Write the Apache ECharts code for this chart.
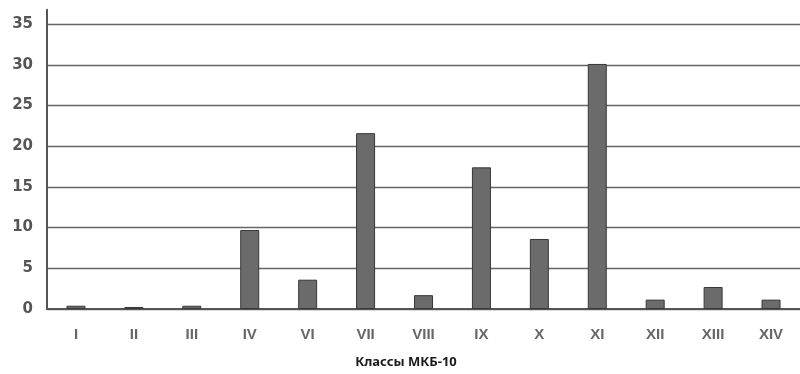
<!DOCTYPE html>
<html><head><meta charset="utf-8">
<script src="https://cdn.jsdelivr.net/npm/echarts@6/dist/echarts.min.js"></script>
<style>html,body{margin:0;padding:0;background:#fff}#c{width:800px;height:374px}</style>
</head><body><div id="c"></div>
<script>
const categories = ['I','II','III','IV','VI','VII','VIII','IX','X','XI','XII','XIII','XIV'];
const values = [0.4, 0.25, 0.4, 9.7, 3.6, 21.6, 1.7, 17.4, 8.6, 30.1, 1.15, 2.7, 1.15];
const yTicks = [0, 5, 10, 15, 20, 25, 30, 35];
const axisName = 'Классы МКБ-10';

const chart = echarts.init(document.getElementById('c'));
const gridColors = yTicks.map(() => '#666').concat(['rgba(0,0,0,0)']);
chart.setOption({
  animation: false,
  grid: { left: 47, right: 0, top: 9.8, bottom: 61.7 },
  xAxis: {
    type: 'category', data: categories,
    name: axisName, nameLocation: 'middle', nameGap: 47,
    nameTextStyle: { fontFamily: 'Noto Sans', fontWeight: 'bold', fontSize: 13, color: '#1a1a1a', padding: [0, 35, 0, 0] },
    axisLine: { lineStyle: { color: '#555', width: 2 } },
    axisTick: { show: false },
    axisLabel: { fontFamily: 'Liberation Sans', fontWeight: 'bold', fontSize: 15, color: '#666', margin: 18 }
  },
  yAxis: {
    type: 'value', min: 0, max: 36.75, interval: 5,
    axisLine: { show: true, lineStyle: { color: '#555', width: 2 } },
    axisTick: { show: false },
    axisLabel: {
      fontFamily: 'DejaVu Sans', fontWeight: 'bold', fontSize: 15, color: '#555', margin: 14,
      formatter: v => (yTicks.indexOf(v) >= 0 ? String(v) : '')
    },
    splitLine: { show: true, lineStyle: { color: gridColors, width: 1.3 } }
  },
  series: [{
    type: 'bar', data: values, barWidth: 19,
    itemStyle: { color: '#6b6b6b', borderColor: '#383838', borderWidth: 1 }
  }]
});
</script></body></html>
